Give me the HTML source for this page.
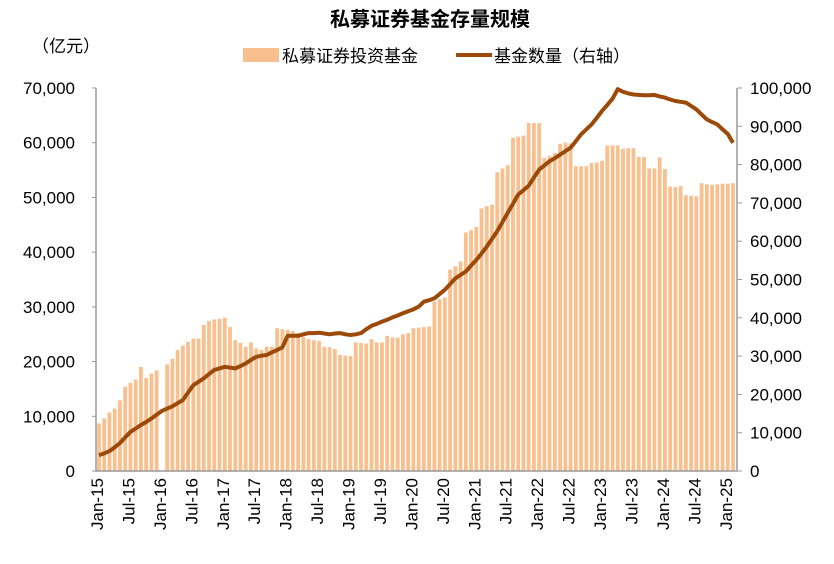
<!DOCTYPE html>
<html><head><meta charset="utf-8"><style>
body{margin:0;background:#fff;}
svg text{font-family:"Liberation Sans","Noto Sans CJK SC",sans-serif;fill:#000;}
</style></head><body>
<svg id="chart" width="834" height="559" viewBox="0 0 834 559" xmlns="http://www.w3.org/2000/svg">
<text x="430" y="26" font-size="20" font-weight="bold" text-anchor="middle">私募证券基金存量规模</text>
<text x="32" y="52" font-size="17">（亿元）</text>
<g>
<rect x="243" y="48" width="36" height="14" fill="#F9C08F"/>
<text x="282" y="62" font-size="17">私募证券投资基金</text>
<line x1="456" y1="55" x2="492" y2="55" stroke="#9C4A0A" stroke-width="4"/>
<text x="494" y="62" font-size="17">基金数量（右轴）</text>
</g>
<g id="plot"></g>
</svg>
<script>
const months = ["Jan-15","Jul-15","Jan-16","Jul-16","Jan-17","Jul-17","Jan-18","Jul-18","Jan-19","Jul-19","Jan-20","Jul-20","Jan-21","Jul-21","Jan-22","Jul-22","Jan-23","Jul-23","Jan-24","Jul-24","Jan-25"];
const leftTicks = ["0","10,000","20,000","30,000","40,000","50,000","60,000","70,000"];
const rightTicks = ["0","10,000","20,000","30,000","40,000","50,000","60,000","70,000","80,000","90,000","100,000"];
const fundSize = [8.7,9.6,10.7,11.4,12.9,15.4,16.1,16.7,19.0,17.0,17.8,18.4,0,19.5,20.5,22.1,22.9,23.6,24.2,24.2,26.7,27.4,27.7,27.8,28.0,26.3,23.9,23.4,22.7,23.5,22.4,22.1,22.7,22.7,26.1,25.9,25.8,25.6,25.2,24.5,24.1,23.9,23.8,22.7,22.6,22.3,21.2,21.1,21.0,23.5,23.4,23.3,24.1,23.5,23.5,24.7,24.4,24.4,25.0,25.2,26.1,26.2,26.3,26.4,31.0,31.4,31.7,36.8,37.4,38.3,43.6,44.0,44.6,48.0,48.4,48.7,54.6,55.3,55.9,60.9,61.1,61.3,63.6,63.6,63.6,57.2,57.6,58.1,59.8,60.0,59.9,55.7,55.7,55.7,56.3,56.4,56.7,59.5,59.5,59.5,58.9,59.0,59.0,57.4,57.4,55.3,55.3,57.3,55.2,52.0,51.9,52.1,50.4,50.3,50.2,52.6,52.4,52.3,52.4,52.5,52.5,52.6];
const fundCount = [4.1,4.6,5.2,6.2,7.3,8.8,10.2,11.1,12.0,12.8,13.7,14.7,15.7,16.3,16.9,17.7,18.5,20.5,22.4,23.3,24.2,25.3,26.4,26.8,27.2,27.0,26.8,27.4,28.1,29.0,29.8,30.1,30.3,31.0,31.6,32.3,35.3,35.3,35.3,35.7,36.0,36.0,36.1,35.9,35.7,35.9,36.0,35.7,35.5,35.7,36.0,37.0,37.9,38.4,39.0,39.5,40.1,40.6,41.2,41.7,42.2,42.9,44.2,44.6,45.1,46.2,47.3,48.8,50.3,51.2,52.1,53.6,55.1,56.8,58.6,60.6,62.6,65.0,67.4,69.8,72.2,73.3,74.5,76.6,78.7,79.8,80.9,81.7,82.6,83.5,84.4,86.1,87.9,89.2,90.5,92.2,94.0,95.6,97.2,99.7,99.0,98.6,98.3,98.2,98.1,98.1,98.2,97.8,97.5,97.0,96.6,96.4,96.2,95.3,94.4,93.1,91.8,91.1,90.5,89.2,88.0,85.7];

const NS="http://www.w3.org/2000/svg";
const plot=document.getElementById('plot');
const X0=97, STEP=5.24, Y0=471, YTOP=88;
const xc=i=>X0+2+STEP*i;
const yL=v=>Y0-(v*1000)/70000*(Y0-YTOP);
const yR=v=>Y0-(v*1000)/100000*(Y0-YTOP);
function mk(tag,attrs){const e=document.createElementNS(NS,tag);for(const k in attrs)e.setAttribute(k,attrs[k]);plot.appendChild(e);return e;}

fundSize.forEach((v,i)=>{ if(v<=0) return;
  const r=mk('rect',{x:xc(i)-1.9,y:yL(v),width:3.8,height:Y0-yL(v),fill:'#F9C08F'});
  
  
});
const pts=fundCount.map((v,i)=>xc(i).toFixed(1)+','+yR(v).toFixed(1)).join(' ');
const pl=mk('polyline',{points:pts,fill:'none',stroke:'#9C4A0A','stroke-width':4,'stroke-linejoin':'round'});



const ax=mk('path',{d:`M${X0-1},${YTOP} V${Y0} H737 V${YTOP}`,fill:'none',stroke:'#999','stroke-width':1.5});



leftTicks.forEach((t,k)=>{const y=Y0-k*(Y0-YTOP)/7;
  const tk=mk('line',{x1:X0-5,x2:X0-1,y1:y,y2:y,stroke:'#999'});
  
  
  const tx=mk('text',{x:75,y:y+6,'font-size':17,'text-anchor':'end'});tx.textContent=t;
  
  
});
rightTicks.forEach((t,k)=>{const y=Y0-k*(Y0-YTOP)/10;
  const tk=mk('line',{x1:737,x2:742,y1:y,y2:y,stroke:'#999'});
  
  
  const tx=mk('text',{x:750,y:y+6,'font-size':17});tx.textContent=t;
  
  
});
months.forEach((m,k)=>{const x=xc(k*6)-2+6;
  const tx=mk('text',{x:0,y:0,'font-size':17,'text-anchor':'end',transform:`translate(${x},478) rotate(-90)`});tx.textContent=m;
  
  
});
</script>
</body></html>
